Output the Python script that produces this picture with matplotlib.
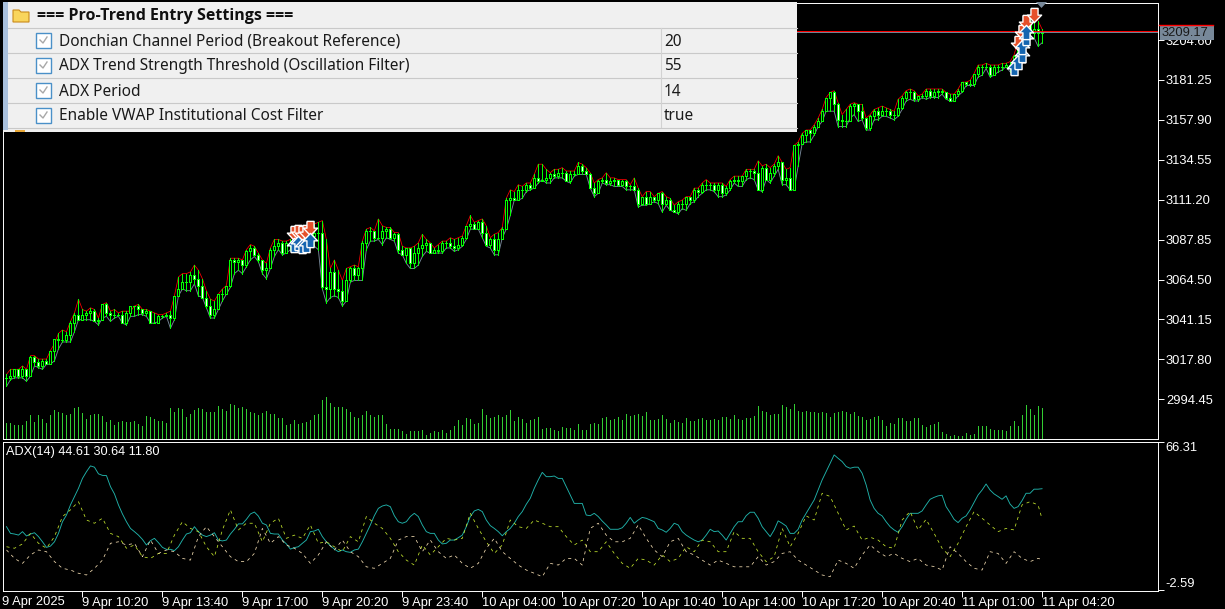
import numpy as np
import matplotlib
matplotlib.use("Agg")
import matplotlib.pyplot as plt
from matplotlib.path import Path
from matplotlib.patches import Rectangle, Polygon

highs = [3009,3012,3012,3012,3014,3012,3020,3020,3018,3018,3018,3023,3027,3033,3035,3034,3040,3045,3053,3047,
 3046,3048,3047,3042,3050,3051,3046,3047,3045,3046,3046,3046,3049,3050,3047,3047,3046,3045,3044,3044,
 3045,3046,3055,3066,3068,3068,3069,3073,3070,3065,3058,3053,3052,3056,3059,3061,3077,3077,3077,3076,
 3082,3085,3084,3080,3076,3074,3083,3088,3088,3087,3087,3088,3090,3090,3091,3092,3093,3097,3098,3099,
 3088,3071,3076,3070,3064,3071,3072,3073,3072,3087,3094,3095,3093,3100,3096,3095,3095,3092,3092,3084,
 3083,3083,3084,3086,3091,3088,3086,3083,3085,3087,3087,3089,3088,3089,3090,3096,3102,3098,3099,3100,
 3096,3089,3091,3092,3095,3112,3117,3116,3120,3119,3121,3121,3126,3132,3132,3129,3127,3129,3129,3130,
 3128,3128,3128,3133,3132,3130,3127,3121,3123,3124,3127,3124,3124,3123,3123,3123,3120,3124,3118,3113,
 3116,3116,3113,3115,3116,3113,3112,3108,3110,3111,3113,3113,3118,3118,3121,3123,3121,3121,3121,3121,
 3119,3123,3125,3125,3125,3129,3129,3129,3134,3131,3132,3130,3132,3137,3133,3129,3130,3143,3145,3150,
 3152,3152,3155,3159,3164,3171,3174,3175,3168,3161,3164,3167,3168,3167,3167,3159,3161,3164,3165,3166,
 3165,3164,3163,3170,3172,3175,3176,3175,3172,3173,3176,3176,3176,3176,3176,3174,3173,3173,3176,3180,
 3180,3181,3185,3190,3190,3191,3190,3190,3190,3191,3191,3192,3196,3204,3209,3216,3218,3219,3216,3211]
lows = [3002,3006,3007,3007,3007,3005,3008,3014,3013,3012,3015,3015,3017,3024,3028,3028,3028,3034,3041,3041,
 3041,3041,3040,3038,3042,3043,3040,3042,3043,3039,3038,3043,3043,3044,3044,3043,3039,3039,3040,3042,
 3043,3036,3041,3055,3059,3058,3058,3062,3055,3054,3048,3042,3042,3047,3052,3056,3060,3068,3070,3068,
 3072,3076,3078,3075,3068,3065,3071,3078,3082,3079,3080,3082,3083,3083,3083,3084,3085,3084,3082,3059,
 3051,3054,3055,3054,3049,3052,3063,3064,3064,3064,3082,3087,3087,3088,3085,3089,3088,3087,3080,3079,
 3074,3071,3071,3073,3078,3081,3080,3080,3080,3080,3083,3083,3081,3082,3084,3088,3094,3094,3094,3089,
 3084,3083,3079,3079,3089,3094,3102,3111,3111,3112,3116,3117,3118,3121,3123,3121,3121,3124,3124,3124,
 3122,3121,3125,3126,3126,3126,3118,3113,3115,3121,3120,3120,3119,3119,3119,3117,3117,3117,3107,3108,
 3108,3109,3110,3109,3104,3108,3105,3104,3103,3106,3105,3109,3110,3113,3115,3117,3117,3116,3113,3113,
 3114,3117,3121,3119,3119,3123,3124,3123,3117,3116,3123,3121,3125,3129,3120,3120,3117,3117,3131,3144,
 3145,3145,3149,3154,3157,3163,3163,3163,3154,3154,3154,3159,3161,3157,3158,3152,3152,3158,3158,3160,
 3160,3159,3158,3160,3164,3169,3170,3169,3169,3171,3170,3171,3171,3171,3173,3170,3169,3169,3172,3174,
 3178,3178,3178,3183,3184,3188,3183,3184,3186,3187,3189,3186,3188,3195,3199,3205,3205,3206,3201,3203]
closes = [3007,3008,3012,3008,3012,3008,3019,3016,3014,3017,3015,3023,3030,3029,3029,3032,3039,3044,3041,3044,
 3045,3046,3040,3041,3050,3045,3044,3044,3044,3039,3045,3049,3049,3047,3045,3046,3039,3039,3043,3043,
 3044,3042,3055,3059,3063,3063,3067,3065,3061,3054,3049,3044,3047,3056,3056,3061,3076,3075,3076,3073,
 3081,3083,3079,3076,3070,3071,3082,3084,3086,3080,3086,3086,3087,3088,3089,3090,3090,3092,3092,3060,
 3059,3069,3059,3058,3052,3064,3071,3067,3071,3086,3093,3093,3089,3089,3093,3094,3089,3091,3082,3079,
 3083,3074,3080,3083,3085,3086,3080,3082,3081,3086,3086,3084,3083,3085,3089,3096,3097,3094,3098,3092,
 3085,3088,3082,3088,3094,3111,3112,3111,3117,3117,3120,3118,3124,3122,3123,3124,3126,3125,3127,3127,
 3122,3126,3126,3131,3128,3126,3118,3115,3122,3123,3121,3122,3123,3120,3122,3119,3119,3117,3109,3113,
 3109,3113,3111,3115,3109,3111,3105,3104,3109,3109,3113,3111,3117,3116,3120,3120,3120,3117,3120,3115,
 3118,3122,3123,3122,3125,3128,3128,3127,3117,3130,3123,3127,3131,3133,3123,3124,3117,3143,3144,3149,
 3152,3150,3154,3157,3163,3171,3174,3167,3158,3157,3157,3166,3167,3163,3159,3153,3160,3163,3161,3163,
 3163,3161,3161,3165,3171,3174,3174,3170,3172,3172,3175,3172,3174,3175,3174,3171,3169,3173,3175,3180,
 3179,3179,3185,3189,3189,3189,3184,3189,3189,3189,3190,3188,3195,3203,3208,3214,3209,3211,3209,3209.17]
volumes = [16,16,14,14,14,18,24,17,24,20,16,24,29,27,26,24,25,31,32,26,20,24,25,25,23,17,19,14,17,18,17,17,18,15,13,
 23,22,20,18,18,16,31,27,31,30,22,25,29,31,30,27,27,27,33,30,28,35,34,31,32,30,27,26,24,26,28,25,25,21,21,14,
 15,19,15,16,17,19,24,25,39,42,36,32,32,32,30,27,22,21,24,28,24,22,24,24,15,10,10,10,8,5,8,8,8,9,4,6,8,7,9,6,9,13,19,14,21,20,15,16,30,24,
 21,22,24,22,24,29,18,22,20,16,19,20,22,10,11,11,9,8,12,11,11,9,15,9,9,15,16,15,21,22,19,20,22,19,25,23,24,25,23,27,19,19,20,24,20,16,19,17,16,21,
 18,18,20,21,19,19,20,19,22,22,20,24,20,19,21,21,23,33,28,27,
 24,25,25,34,32,30,35,28,27,28,27,27,26,27,26,22,26,27,28,27,25,27,23,22,19,20,22,23,19,13,16,15,21,21,18,18,21,21,14,12,14,15,17,7,5,3,4,3,3,6,4,5,13,13,13,10,9,9,9,8,13,18,13,24,34,30,24,33,31]
adx = [27.0,23.9,23.6,23.1,24.7,22.7,23.6,24.2,22.4,20.0,17.4,18.0,20.0,23.9,29.3,32.4,37.1,40.9,44.8,49.4,
 52.5,55.2,54.6,51.5,50.8,50.7,45.6,42.2,37.1,32.9,29.3,26.2,24.7,23.1,21.1,18.5,20.5,21.6,19.6,17.4,
 16.5,16.5,15.9,17.7,20.8,23.6,24.2,27.0,24.7,23.1,22.4,23.1,24.2,20.8,20.4,20.8,23.6,25.8,28.3,28.3,
 30.4,32.9,33.8,31.9,28.6,27.8,23.9,23.6,23.6,20.8,19.0,
 16.6,17.3,17.7,19.3,20.8,24.7,25.0,25.8,22.4,20.0,18.2,16.6,15.4,16.2,15.4,15.1,16.2,16.6,20.0,23.9,27.8,32.1,35.5,36.6,37.1,36.3,32.1,29.3,28.6,29.3,31.7,33.2,31.7,27.8,24.7,23.9,23.9,20.8,19.0,19.3,20.8,20.8,21.9,23.1,27.0,31.7,34.3,35.0,34.0,30.1,27.5,26.2,24.7,22.8,24.7,26.2,28.6,31.7,34.0,37.4,40.2,44.8,48.7,52.2,50.2,50.2,50.5,49.4,49.4,45.6,41.7,37.8,37.8,37.8,32.4,32.1,33.2,31.7,29.6,27.8,25.8,25.8,25.8,26.5,28.6,31.3,28.6,30.1,31.3,30.9,30.1,29.3,26.2,25.5,24.4,26.2,28.6,27.8,24.7,23.1,21.9,20.8,20.0,20.8,23.1,25.8,24.7,25.0,23.1,20.8,23.9,27.0,29.3,29.3,32.1,33.7,33.7,30.9,27.0,24.7,
 22.4,25.5,29.7,28.6,27.3,23.9,23.9,25.8,30.1,33.2,36.3,39.4,44.0,48.7,52.5,56.4,60.3,58.7,57.2,54.9,54.1,54.6,54.6,51.8,46.4,39.4,35.5,33.2,32.0,29.3,27.0,25.5,24.4,27.0,30.4,33.2,33.2,33.2,34.3,37.1,39.7,40.6,41.3,41.6,36.3,33.5,30.4,28.9,30.9,32.0,34.8,38.2,41.7,44.0,46.8,44.0,42.2,41.0,39.7,41.3,37.5,35.5,36.3,39.1,42.5,42.5,44.4,44.4,44.61]
# DI lines read at every second bar, last value is the final bar
di_plus = [17.7,17,19,23.9,19.3,17,22.4,31.7,34.8,38.6,30.1,28.6,30.9,23.9,22.4,17,18.5,13.1,12.3,14.6,14.6,23.1,29.3,26.2,24.7,17.7,13.1,25.5,34.8,25.5,28.6,28.6,20,28.6,30.9,21.6,23.1,
 21.6,27.8,19.3,20,17.7,15.4,22.4,20,31.7,28.6,26.2,21.6,15.4,11.5,9.2,18.5,13.9,17.7,21.6,20.8,21.6,33.2,26.2,20,14.6,18.5,30.1,27,26.2,30.1,28.6,27,27,22.4,18.5,20.8,15.4,15.4,20,14.6,10,7.7,12.3,11.5,9.2,13.9,10.8,12.3,17.7,15.4,20.8,20,15.4,15.4,24.7,21.6,21.6,15.4,10.8,
 13.1,26.2,17.7,23.9,32,30.1,42.5,41,33.2,25.5,27.3,20.8,22.1,20.8,17.7,17,30.1,34,25.5,30.4,23.9,17,13.1,19.3,27,34,30.9,27.8,24.7,26.2,25.5,37.1,38.6,37.1,30.64]
di_minus = [16.2,12.3,10,13.9,16.2,15.4,10.8,7.7,6.9,5.4,4.6,7.7,11.5,19.3,20,18.5,19.3,13.1,20.8,14.6,16.2,15.4,12.3,11.5,22.4,27,22.4,17.7,13.1,10.8,10.8,14.6,26.2,19.3,22.4,18.5,17,
 14.6,10,13.9,20,16.2,20.8,15.4,13.1,8.4,7.7,10,12.3,20.8,22.4,22.4,15.4,20.8,15.4,12.3,13.9,10,7.7,10,17,21.6,15.4,12.3,9.2,6.9,5.4,3.8,10,9.2,12.3,12.3,9.2,26.2,28.6,23.1,20,20,21.6,27.8,21.6,16.2,13.1,20,21.6,15.4,13.9,11.5,9.2,11.5,10,8.4,8.4,8.4,13.1,9.2,
 10.8,14.6,15.4,11.5,9.2,6.9,4.6,3.8,11.5,10,7.7,13.9,18.5,15.4,13.1,14.6,12.3,10.8,12.3,9.2,8.5,6.9,17.7,14.6,10.8,7.7,6.9,15.4,14.6,10,15.4,12.3,10.8,12.3,11.80]
sell_bars = [72,73,74,75,76,253,254,255,257]
sell_prices = [3091.5,3092.5,3092,3092.5,3094.5,3203.1,3209.5,3215.4,3219.3]
buy_bars = [72,73,74,75,76,252,253,254,254,255,255]
buy_prices = [3084.7,3085.7,3084,3084.7,3087.7,3188,3192,3195.9,3200.7,3205.6,3209.5]
price_ticks = [3204.60,3181.25,3157.90,3134.55,3111.20,3087.85,3064.50,3041.15,3017.80,2994.45]
time_labels = ['9 Apr 10:20','9 Apr 13:40','9 Apr 17:00','9 Apr 20:20','9 Apr 23:40','10 Apr 04:00','10 Apr 07:20',
               '10 Apr 10:40','10 Apr 14:00','10 Apr 17:20','10 Apr 20:40','11 Apr 01:00','11 Apr 04:20']
time_bars = [19,39,59,79,99,119,139,159,179,199,219,239,259]
last_price = 3209.17
ask_price = 3209.80
settings = ['Donchian Channel Period (Breakout Reference)','ADX Trend Strength Threshold (Oscillation Filter)',
            'ADX Period','Enable VWAP Institutional Cost Filter']
setting_values = ['20','55','14','true']

assert len(highs)==len(lows)==len(closes)==260, (len(highs),len(lows),len(closes))

W,H = 1225,609
FONT = 'Liberation Sans'
LW = 0.7
THIN = 0.55
plt.rcParams['font.family'] = FONT
fig = plt.figure(figsize=(W/100,H/100),dpi=100,facecolor='black')
def pane(l,t,r,b):
    return fig.add_axes([l/W,1-b/H,(r-l)/W,(b-t)/H],facecolor='black')

XL = (-1,(1157.5-6)/4)
axv = pane(2.5,2.5,1157.5,438.5)
axv.set_xlim(*XL)
axv.set_ylim(0,436)
axv.axis('off')
axv.vlines(np.arange(len(volumes)),0,volumes,color='#32cd32',lw=LW,antialiased=False)

ax = pane(2.5,2.5,1157.5,438.5)
ax.patch.set_visible(False)
ax.set_xlim(*XL)
ax.set_ylim(3181.25-(438.5-80)*0.585, 3181.25+(80-2.5)*0.585)
ax.set_xticks([])
ax.yaxis.tick_right()
ax.set_yticks(price_ticks)
ax.set_yticklabels([f'{p:.2f}' for p in price_ticks],fontsize=9.3,color='white')
ax.tick_params(axis='y',color='white',length=4,width=LW,pad=2)
for s in ax.spines.values():
    s.set_color('white'); s.set_linewidth(LW)

x = np.arange(len(closes))
hi,lo,cl = map(np.array,(highs,lows,closes))
op = np.r_[cl[0],cl[:-1]]
ax.plot(x,hi,color='#ff0000',lw=THIN,zorder=2)
ax.plot(x,lo,color='#778899',lw=THIN+0.1,zorder=2)
ax.vlines(x,lo,hi,color='#00ff00',lw=LW,zorder=3,antialiased=False)
up = cl>=op
ax.bar(x[up],(cl-op)[up],bottom=op[up],width=0.5,facecolor='black',edgecolor='#00ff00',lw=LW,zorder=4,antialiased=False)
ax.bar(x[~up],(op-cl)[~up],bottom=cl[~up],width=0.5,facecolor='white',edgecolor='#00ff00',lw=LW,zorder=4,antialiased=False)
ax.axhline(last_price,color='#778899',lw=LW,zorder=5)
ax.axhline(ask_price,color='#ff0000',lw=LW,zorder=5)

upv = [(-.5,-1),(.5,-1),(.5,-.05),(1,-.05),(0,1),(-1,-.05),(-.5,-.05),(-.5,-1)]
up_arrow = Path(upv)
down_arrow = Path([(a,-b) for a,b in upv])
ax.scatter(sell_bars,sell_prices,marker=down_arrow,s=105,facecolor='#e5502b',edgecolor='white',lw=1,zorder=7)
ax.scatter(buy_bars,buy_prices,marker=up_arrow,s=105,facecolor='#1565b0',edgecolor='white',lw=1,zorder=8)

sub = pane(2.5,441.5,1157.5,590.5)
sub.set_xlim(*XL)
sub.set_ylim(66.31-(590.5-442)*0.464,66.31+0.2)
for s in sub.spines.values():
    s.set_color('white'); s.set_linewidth(LW)
sub.plot(np.arange(len(adx)),adx,color='#20b2aa',lw=THIN+0.1)
di_x = np.r_[np.arange(0,260,2),259]
sub.plot(di_x[:len(di_plus)],di_plus,color='#c6e82e',lw=THIN,ls=(0,(4,5)))
sub.plot(di_x[:len(di_minus)],di_minus,color='#f5deb3',lw=THIN,ls=(0,(4,5)))
sub.set_xticks(time_bars)
sub.set_xticklabels(time_labels,fontsize=9.3,color='white',ha='left')
sub.tick_params(axis='x',color='white',length=4,width=LW,pad=1)
sub.yaxis.tick_right()
sub.set_yticks([66.31,-2.59])
labs = sub.set_yticklabels(['66.31','-2.59'],fontsize=9.3,color='white')
labs[0].set_va('top'); labs[1].set_va('bottom')
sub.tick_params(axis='y',color='white',length=4,width=LW,pad=2)

ui = fig.add_axes([0,0,1,1],zorder=20)
ui.set_xlim(0,W); ui.set_ylim(H,0); ui.axis('off'); ui.patch.set_visible(False)
ui.text(6,452,'ADX(14) 44.61 30.64 11.80',color='white',fontsize=9.2,va='center')
ui.text(2,602,'9 Apr 2025',color='white',fontsize=9.3,va='center')
ui.add_patch(Rectangle((1160,24.5),53.5,15,fc='#778899',ec='none'))
ui.plot([1159,1213],[24.5,24.5],color='#ff0000',lw=1)
ui.text(1162,32.5,f'{last_price:.2f}',color='#1a1a1a',fontsize=9.3,va='center')
ui.add_patch(Polygon([(1036,2),(1047,2),(1041.5,8)],fc='#778899',ec='none'))

# settings panel
PF='Noto Sans'
ui.add_patch(Rectangle((3,2),794,130,fc='#f0f0f0',ec='none'))
ui.add_patch(Rectangle((3,2),4.5,128,fc='#a9c0dc',ec='none'))
for yy in (27,52,77,102,127):
    ui.plot([8,797],[yy+.5,yy+.5],color='#c9c9c9',lw=0.8)
ui.plot([660.5,660.5],[28,127],color='#d2d2d2',lw=0.8)
ui.add_patch(Polygon([(13,10),(19,10),(21,12),(29,12),(29,22),(13,22)],fc='#f9d55c',ec='#c98a1a',lw=0.8))
ui.add_patch(Rectangle((15,130),10,2,fc='#e8a838',ec='none'))
ui.text(37,16.5,'=== Pro-Trend Entry Settings ===',family='Open Sans',fontsize=11.5,fontweight='bold',color='#101010',va='center')
for k,(name,val) in enumerate(zip(settings,setting_values)):
    yc = 40+25*k
    ui.add_patch(Rectangle((36,yc-7.5),15,15,fc='white',ec='#4a90c8',lw=1))
    ui.plot([40,43,47],[yc,yc+3,yc-3],color='#a8a8a8',lw=1)
    ui.text(59,yc+1.5,name,family=PF,fontsize=11.1,color='#1a1a1a',va='center')
    ui.text(664,yc+1.5,val,family=PF,fontsize=11.1,color='#1a1a1a',va='center')

fig.savefig('out.png',dpi=100,facecolor='black')
